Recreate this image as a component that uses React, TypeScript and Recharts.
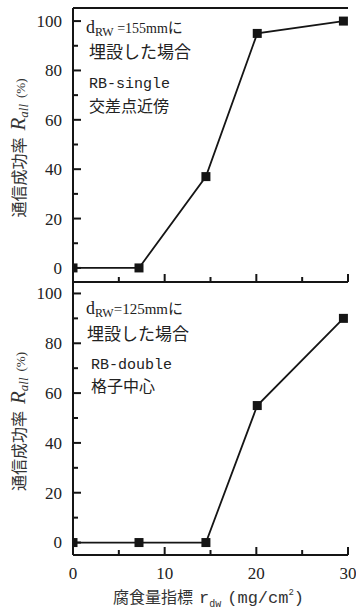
import React from 'react';
import { LineChart, Line, XAxis, YAxis } from 'recharts';

// ---- data ----
const corrosionIndex = [0, 7.2, 14.5, 20.1, 29.5];
const rateSingle = [0, 0, 37, 95, 100];
const rateDouble = [0, 0, 0, 55, 90];
const xMajorTicks = [0, 10, 20, 30];
const xMinorTicks = [5, 15, 25];
const yMajorTicks = [0, 20, 40, 60, 80, 100];
const yMinorTicks = [10, 30, 50, 70, 90];

const topData = corrosionIndex.map((x, i) => ({ x, r: rateSingle[i] }));
const bottomData = corrosionIndex.map((x, i) => ({ x, r: rateDouble[i] }));
const xAllTicks = [...xMajorTicks, ...xMinorTicks].sort((a, b) => a - b);
const yAllTicks = [...yMajorTicks, ...yMinorTicks].sort((a, b) => a - b);

const INK = '#151515';
const TICK = '#151515';
const SERIF = '"Liberation Serif", "DejaVu Serif", serif';
const MONO = '"Liberation Mono", "DejaVu Sans Mono", monospace';
const CJK = '"Noto Sans CJK JP", "Noto Sans CJK SC", sans-serif';
const MAJ = 8;
const MIN = 5;

const SquareDot = (props: any) => {
  const { cx, cy, index } = props;
  if (cx == null || cy == null) return <g key={index} />;
  return <rect key={index} x={cx - 4.5} y={cy - 4.5} width={9} height={9} fill={INK} />;
};

const isXMajor = (v: number) => xMajorTicks.includes(v);
const isYMajor = (v: number) => yMajorTicks.includes(v);

const LeftTick = (props: any) => {
  const { x, y, payload } = props;
  const major = isYMajor(payload.value);
  return (
    <g>
      <line x1={x} x2={x + (major ? MAJ : MIN)} y1={y} y2={y} stroke={TICK} strokeWidth={2} />
      {major ? (
        <text x={x - 11} y={y} dy="0.35em" textAnchor="end" fontFamily={SERIF} fontSize={17} fill="#222">
          {payload.value}
        </text>
      ) : null}
    </g>
  );
};

const RightTick = (props: any) => {
  const { x, y, payload } = props;
  const major = isYMajor(payload.value);
  return <line x1={x} x2={x - (major ? MAJ : MIN)} y1={y} y2={y} stroke={TICK} strokeWidth={2} />;
};

const TopTick = (props: any) => {
  const { x, y, payload } = props;
  const major = isXMajor(payload.value);
  return <line x1={x} x2={x} y1={y} y2={y + (major ? MAJ : MIN)} stroke={TICK} strokeWidth={2} />;
};

const BottomTickPlain = (props: any) => {
  const { x, y, payload } = props;
  const major = isXMajor(payload.value);
  return <line x1={x} x2={x} y1={y} y2={y - (major ? MAJ : MIN)} stroke={TICK} strokeWidth={2} />;
};

const BottomTickLabeled = (props: any) => {
  const { x, y, payload } = props;
  const major = isXMajor(payload.value);
  return (
    <g>
      <line x1={x} x2={x} y1={y} y2={y - (major ? MAJ : MIN)} stroke={TICK} strokeWidth={2} />
      {major ? (
        <text x={x} y={y + 12} dy="0.71em" textAnchor="middle" fontFamily={SERIF} fontSize={17} fill="#222">
          {payload.value}
        </text>
      ) : null}
    </g>
  );
};

const YTitle = (props: any) => {
  const vb = props.viewBox || {};
  const cx = vb.x + 25;
  const cy = vb.y + vb.height / 2 + 3;
  return (
    <text x={cx} y={cy} textAnchor="middle" transform={`rotate(-90, ${cx}, ${cy})`} fill="#333">
      <tspan fontFamily={CJK} fontSize={16}>通信成功率</tspan>
      <tspan fontFamily={SERIF} fontSize={21} fontStyle="italic" dx={7}>R</tspan>
      <tspan fontFamily={SERIF} fontSize={13} fontStyle="italic" dy={3}>all</tspan>
      <tspan fontFamily={SERIF} fontSize={13} dy={-3} dx={6}>(%)</tspan>
    </text>
  );
};

const XTitle = (props: any) => {
  const vb = props.viewBox || {};
  const x = vb.x + 40;
  const y = vb.y + 48;
  return (
    <text x={x} y={y} textAnchor="start" fill="#333">
      <tspan fontFamily={CJK} fontSize={16}>腐食量指標</tspan>
      <tspan fontFamily={MONO} fontSize={17} dx={6}>r</tspan>
      <tspan fontFamily={MONO} fontSize={10} dy={4}>dw</tspan>
      <tspan fontFamily={MONO} fontSize={17} dy={-4} dx={6}>(mg/cm</tspan>
      <tspan fontFamily={MONO} fontSize={9} dy={-8}>2</tspan>
      <tspan fontFamily={MONO} fontSize={17} dy={8}>)</tspan>
    </text>
  );
};

const axisLineStyle = { stroke: INK, strokeWidth: 2 };

function Panel({
  data,
  height,
  margin,
  domain,
  withXLabels,
}: {
  data: { x: number; r: number }[];
  height: number;
  margin: any;
  domain: [number, number];
  withXLabels: boolean;
}) {
  return (
    <LineChart width={356} height={height} data={data} margin={margin}>
      <XAxis
        xAxisId="bottom"
        dataKey="x"
        type="number"
        domain={[0, 30]}
        ticks={xAllTicks}
        interval={0}
        allowDataOverflow
        height={withXLabels ? 55 : 1}
        tickSize={0}
        tickMargin={0}
        tickLine={false}
        axisLine={axisLineStyle}
        tick={withXLabels ? <BottomTickLabeled /> : <BottomTickPlain />}
        label={withXLabels ? <XTitle /> : undefined}
      />
      <XAxis
        xAxisId="top"
        orientation="top"
        type="number"
        domain={[0, 30]}
        ticks={xAllTicks}
        interval={0}
        allowDataOverflow
        height={1}
        tickSize={0}
        tickMargin={0}
        tickLine={false}
        axisLine={axisLineStyle}
        tick={<TopTick />}
      />
      <YAxis
        yAxisId="left"
        type="number"
        domain={domain}
        ticks={yAllTicks}
        interval={0}
        allowDataOverflow
        width={73}
        tickSize={0}
        tickMargin={0}
        tickLine={false}
        axisLine={axisLineStyle}
        tick={<LeftTick />}
        label={<YTitle />}
      />
      <YAxis
        yAxisId="right"
        orientation="right"
        type="number"
        domain={domain}
        ticks={yAllTicks}
        interval={0}
        allowDataOverflow
        width={0}
        tickSize={0}
        tickMargin={0}
        tickLine={false}
        axisLine={axisLineStyle}
        tick={<RightTick />}
      />
      <Line
        xAxisId="bottom"
        yAxisId="left"
        dataKey="r"
        type="linear"
        stroke={INK}
        strokeWidth={1.8}
        dot={<SquareDot />}
        activeDot={false}
        isAnimationActive={false}
      />
    </LineChart>
  );
}

const annoFill = '#222';

export default function App() {
  return (
    <div style={{ position: 'absolute', left: 0, top: 0, width: 356, height: 610, background: '#fff' }}>
      <div style={{ position: 'absolute', left: 0, top: 0 }}>
        <Panel
          data={topData}
          height={290}
          margin={{ top: 7, right: 8, bottom: 7, left: 0 }}
          domain={[-5.7, 105.3]}
          withXLabels={false}
        />
      </div>
      <div style={{ position: 'absolute', left: 0, top: 274 }}>
        <Panel
          data={bottomData}
          height={336}
          margin={{ top: 7, right: 8, bottom: 0, left: 0 }}
          domain={[-5.0, 104.6]}
          withXLabels={true}
        />
      </div>
      <svg width={356} height={610} style={{ position: 'absolute', left: 0, top: 0, pointerEvents: 'none' }}>
        <text x={86} y={33} fill={annoFill}>
          <tspan fontFamily={SERIF} fontSize={18}>d</tspan>
          <tspan fontFamily={SERIF} fontSize={12} dy={3}>RW</tspan>
          <tspan fontFamily={SERIF} fontSize={14} dy={-3}> =155mm</tspan>
          <tspan fontFamily={CJK} fontSize={15}>に</tspan>
        </text>
        <text x={89} y={58} fill={annoFill} fontFamily={CJK} fontSize={17}>埋設した場合</text>
        <text x={89} y={88} fill={annoFill} fontFamily={MONO} fontSize={15}>RB-single</text>
        <text x={89} y={112} fill={annoFill} fontFamily={CJK} fontSize={16}>交差点近傍</text>
        <text x={86} y={314} fill={annoFill}>
          <tspan fontFamily={SERIF} fontSize={18}>d</tspan>
          <tspan fontFamily={SERIF} fontSize={12} dy={3}>RW</tspan>
          <tspan fontFamily={SERIF} fontSize={15} dy={-3}>=125mm</tspan>
          <tspan fontFamily={CJK} fontSize={15}>に</tspan>
        </text>
        <text x={87} y={340} fill={annoFill} fontFamily={CJK} fontSize={17}>埋設した場合</text>
        <text x={91} y={369} fill={annoFill} fontFamily={MONO} fontSize={15}>RB-double</text>
        <text x={91} y={392} fill={annoFill} fontFamily={CJK} fontSize={16}>格子中心</text>
      </svg>
    </div>
  );
}
